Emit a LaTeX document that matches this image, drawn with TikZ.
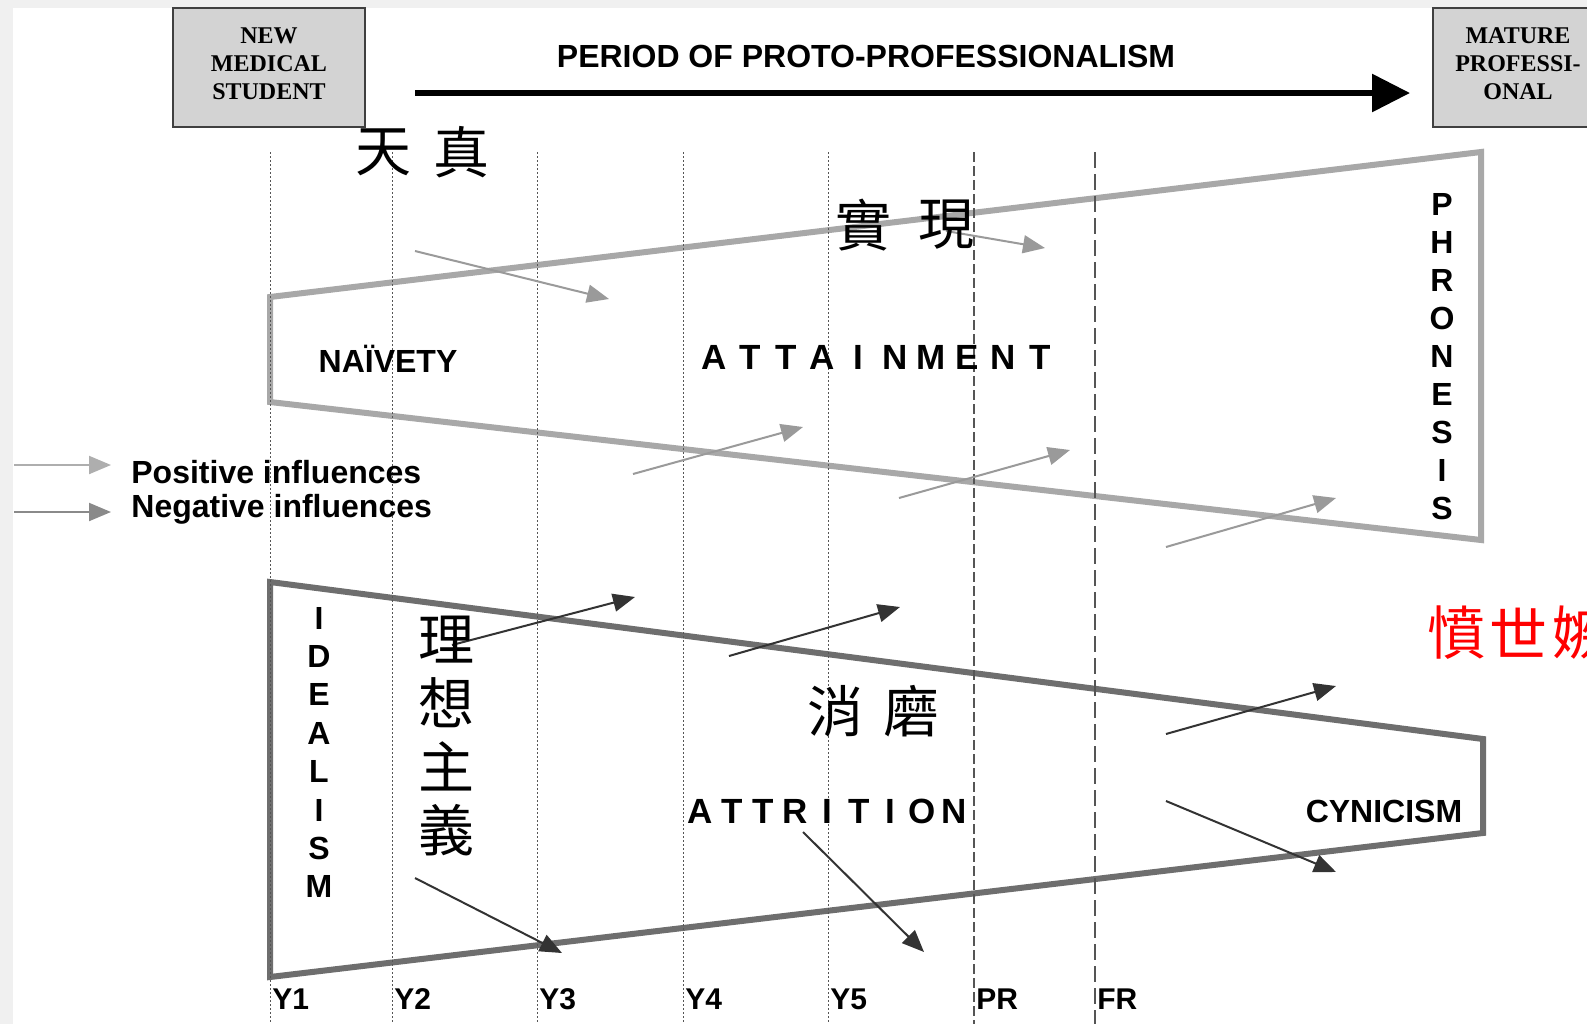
\documentclass[tikz,border=0pt]{standalone}
\usepackage{fontspec}
\setmainfont{Liberation Sans}
\newfontfamily\tms{Liberation Serif}
\newfontfamily\cjk{Noto Sans CJK TC}
\usetikzlibrary{arrows.meta}
\definecolor{boxfill}{HTML}{D3D3D3}
\definecolor{boxline}{HTML}{404040}
\definecolor{upcol}{HTML}{A8A8A8}
\definecolor{lowcol}{HTML}{6E6E6E}
\definecolor{poscol}{HTML}{9A9A9A}
\definecolor{negcol}{HTML}{333333}
\definecolor{gridcol}{HTML}{555555}
\definecolor{legneg}{HTML}{8A8A8A}
\begin{document}
\begin{tikzpicture}[x=0.5pt,y=-0.5pt,
  endbox/.style={draw=boxline,fill=boxfill,line width=1pt,inner sep=0pt,minimum height=59.5pt},
  boxtext/.style={font=\tms\bfseries\fontsize{12}{14}\selectfont,align=center,inner sep=0pt},
  sans/.style={font=\bfseries\fontsize{16}{19}\selectfont,inner sep=0pt},
  big/.style={font=\bfseries\fontsize{17.5}{20}\selectfont,inner sep=0pt},
  ylab/.style={font=\bfseries\fontsize{15}{17}\selectfont,inner sep=0pt,anchor=west},
  han/.style={font=\cjk\fontsize{28}{30}\selectfont,inner sep=0pt},
  redhan/.style={font=\cjk\fontsize{29}{30}\selectfont,text=red,inner sep=0pt},
  uptrap/.style={draw=upcol,line width=3pt,line join=miter},
  lowtrap/.style={draw=lowcol,line width=3pt,line join=miter},
  posarr/.style={draw=poscol,line width=1pt,-{Triangle[length=11pt,width=9pt]},fill=poscol},
  negarr/.style={draw=negcol,line width=1pt,-{Triangle[length=11pt,width=9pt]},fill=negcol},
  dotline/.style={draw=gridcol,line width=0.5pt,dash pattern=on 1.2pt off 0.8pt},
  prline/.style={draw=gridcol,line width=0.8pt,dash pattern=on 5pt off 2pt},
  frline/.style={draw=gridcol,line width=0.8pt,dash pattern=on 8pt off 3pt},
]
\clip (0,0) rectangle (1587,1024);
\useasboundingbox (0,0) rectangle (1587,1024);
\fill[white] (0,0) rectangle (1587,1024);
\fill[gray!12] (0,0) rectangle (1587,8);
\fill[gray!12] (0,0) rectangle (13,1024);

% end boxes
\node[endbox,minimum width=96pt] (newstu) at (269,67.5) {};
\node[boxtext] (newstut) at (269,64) {NEW\\MEDICAL\\STUDENT};
\node[endbox,minimum width=85pt] (mature) at (1518,67.5) {};
\node[boxtext] (maturet) at (1518,64) {MATURE\\PROFESSI-\\ONAL};

% period arrow
\node[sans] (period) at (866,56) {PERIOD OF PROTO-PROFESSIONALISM};
\coordinate (pa) at (415,93);
\coordinate (pb) at (1410,93);
\draw[line width=3pt,-{Triangle[length=19pt,width=18.5pt]}] (pa) -- (pb);

% trapezoids
\draw[uptrap] (270,297) -- (1481,152) -- (1481,540) -- (270,402) -- cycle;
\draw[lowtrap] (270,582) -- (1483,739) -- (1483,833) -- (270,977) -- cycle;

% year lines
\foreach \xx in {270,392,537,683,828} {\draw[dotline] (\xx,152) -- (\xx,1024);}
\draw[prline] (974,152) -- (974,1024);
\draw[frline] (1095,152) -- (1095,1024);

% year labels
\node[ylab] (y1) at (272,999) {Y1};
\node[ylab] (y2) at (394,999) {Y2};
\node[ylab] (y3) at (539,999) {Y3};
\node[ylab] (y4) at (685,999) {Y4};
\node[ylab] (y5) at (830,999) {Y5};
\node[ylab] (pr) at (976,999) {PR};
\node[ylab] (fr) at (1097,999) {FR};

% positive influences
\coordinate (p1a) at (415,251);  \coordinate (p1b) at (609,299);
\coordinate (p2a) at (946,231);  \coordinate (p2b) at (1045,248);
\coordinate (p3a) at (633,474);  \coordinate (p3b) at (803,427);
\coordinate (p4a) at (899,498);  \coordinate (p4b) at (1070,450);
\coordinate (p5a) at (1166,547); \coordinate (p5b) at (1336,498);
\foreach \n in {1,...,5} {\draw[posarr] (p\n a) -- (p\n b);}

% negative influences
\coordinate (n1a) at (452,645);  \coordinate (n1b) at (635,597);
\coordinate (n2a) at (729,656);  \coordinate (n2b) at (900,607);
\coordinate (n3a) at (1166,734); \coordinate (n3b) at (1336,686);
\coordinate (n4a) at (1166,801); \coordinate (n4b) at (1336,872);
\coordinate (n5a) at (415,878);  \coordinate (n5b) at (562,953);
\coordinate (n6a) at (803,832);  \coordinate (n6b) at (924,952);
\foreach \n in {1,...,6} {\draw[negarr] (n\n a) -- (n\n b);}

% legend
\coordinate (l1a) at (14,465); \coordinate (l1b) at (111,465);
\coordinate (l2a) at (14,512); \coordinate (l2b) at (111,512);
\draw[posarr,draw=poscol!80,fill=poscol!80] (l1a) -- (l1b);
\draw[posarr,draw=legneg,fill=legneg] (l2a) -- (l2b);
\node[sans,anchor=west] (lpos) at (131,472) {Positive influences};
\node[sans,anchor=west] (lneg) at (131,509) {Negative influences};

% labels
\node[sans] (naivety) at (388,359) {NAÏVETY};
\foreach \c [count=\i from 0] in {A,T,T,A,I,N,M,E,N,T}
  {\node[big] (att\i) at (714+36.2*\i,357) {\c};}
\foreach \c [count=\i from 0] in {A,T,T,R,I,T,I,O,N}
  {\node[big] (atr\i) at (700+31.8*\i,811) {\c};}
\foreach \c [count=\i from 0] in {P,H,R,O,N,E,S,I,S}
  {\node[sans] (phr\i) at (1442,204+38*\i) {\c};}
\foreach \c [count=\i from 0] in {I,D,E,A,L,I,S,M}
  {\node[sans] (ide\i) at (319,618+38.4*\i) {\c};}
\node[sans] (cynic) at (1384,811) {CYNICISM};

% Chinese annotations
\node[han] (tian) at (383,152) {天};
\node[han] (zhen) at (461,152) {真};
\node[han] (shi) at (863,225) {實};
\node[han] (xian) at (946,225) {現};
\node[han] (xiao) at (835,711) {消};
\node[han] (mo) at (911,711) {磨};
\node[han] (li) at (446,640) {理};
\node[han] (xiang) at (446,703) {想};
\node[han] (zhu) at (446,766) {主};
\node[han] (yi) at (446,830) {義};
\node[redhan] (fen) at (1456,633) {憤};
\node[redhan] (shi2) at (1518,633) {世};
\node[redhan] (ji) at (1581,633) {嫉};
\end{tikzpicture}
\end{document}
